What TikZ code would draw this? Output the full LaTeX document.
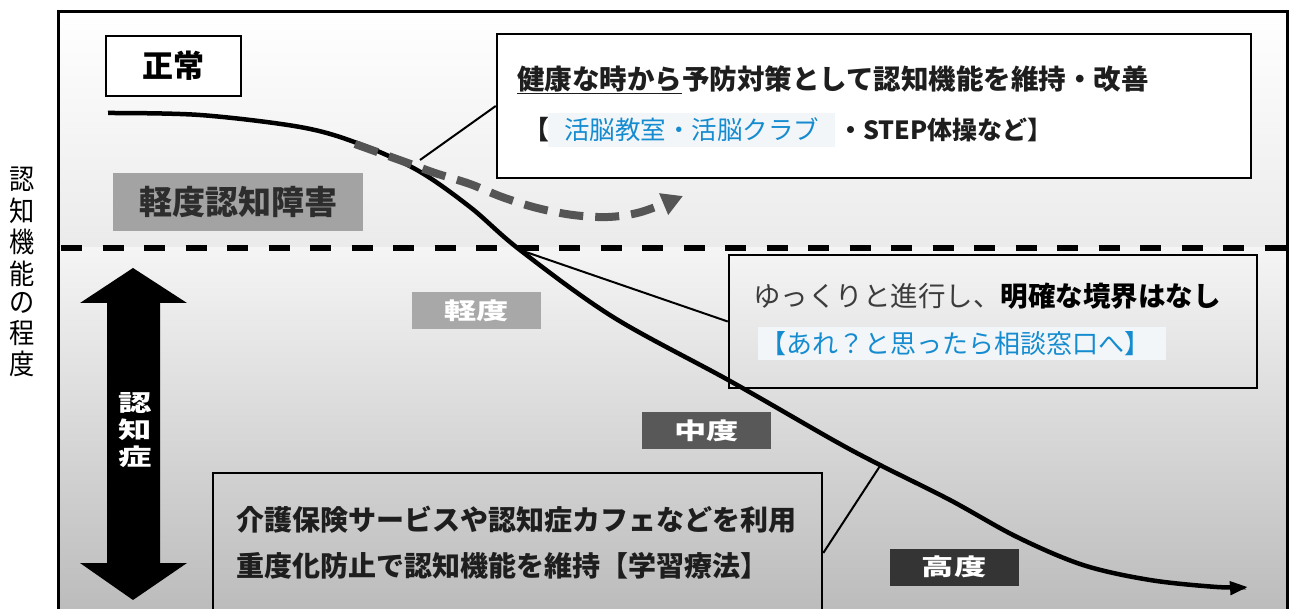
\documentclass[tikz,border=0pt]{standalone}
\usepackage{fontspec}
\usepackage{graphicx}
\setmainfont{Noto Sans CJK JP}
\usetikzlibrary{arrows.meta}
\definecolor{cblue}{RGB}{22,140,208}
\definecolor{cbluebg}{RGB}{242,246,249}
\definecolor{tx}{RGB}{30,30,30}
\definecolor{tgray}{RGB}{60,60,60}
\definecolor{mcigray}{RGB}{163,163,163}
\definecolor{mcitext}{RGB}{45,45,45}
\definecolor{lvone}{RGB}{168,168,168}
\definecolor{lvtwo}{RGB}{88,88,88}
\definecolor{lvthree}{RGB}{52,52,52}
\definecolor{dashgray}{RGB}{85,85,85}
\newcommand{\fsz}[1]{\fontsize{#1}{#1}\selectfont}
\begin{document}
\begin{tikzpicture}[x=1pt,y=-1pt,
  box/.style={draw=black, line width=2.5pt, inner sep=0pt},
  lvl/.style={inner sep=0pt, minimum width=129pt, minimum height=37pt, text=white, font=\bfseries\fsz{23}},
  conn/.style={draw=black, line width=2pt},
  jt/.style={inner sep=0pt, anchor=west}
]
\useasboundingbox (0,0) rectangle (1290,609);
\fill[white] (0,0) rectangle (1290,609);
% backgrounds
\shade[top color=white, bottom color=black!8] (58,12) rectangle (1287,248);
\shade[top color=black!4, bottom color=black!27] (58,248) rectangle (1287,620);

% vertical axis label
\node[inner sep=0pt] (ylab) at (22,275) {\scalebox{0.9}[1]{\fontsize{28}{26.3}\selectfont\begin{tabular}{@{}c@{}}認\\知\\機\\能\\の\\程\\度\end{tabular}}};

% main curve
\draw[line width=4.5pt, -{Triangle[length=18pt,width=13pt]}] plot[smooth, tension=0.55] coordinates {(108,113) (200,115) (300,127) (357,143) (417,170) (470,207) (520,250) (613,317) (730,381) (833,440) (880,465) (950,500) (1017,537) (1083,565) (1150,580) (1217,587) (1248,587)};
\coordinate (p1) at (420,160);
\coordinate (p2) at (520,250);
\coordinate (p3) at (880,466);

% gray dashed prevention curve
\draw[line width=8pt, draw=dashgray, dash pattern=on 24pt off 12pt, -{Triangle[length=21pt,width=22pt]}] plot[smooth, tension=0.55] coordinates {(355,144) (405,162) (435,173) (470,184) (502,197) (537,208) (573,215) (608,217) (641,212) (683,196)};

% threshold dashed line
\draw[line width=6pt, dash pattern=on 21pt off 20.5pt] (61,248) -- (1287,248);

% frame
\draw[line width=3pt] (58,620) -- (58,12) -- (1287,12) -- (1287,620);

% labels
\node[box, fill=white, minimum width=135pt, minimum height=60pt, font=\bfseries\fsz{31}] (norm) at (173.5,66) {正常};
\node[inner sep=0pt, fill=mcigray, minimum width=250pt, minimum height=58pt, font=\bfseries\fsz{33}, text=mcitext] (mci) at (238,202.5) {軽度認知障害};

% box A
\node[box, fill=white, minimum width=754pt, minimum height=144pt] (boxA) at (874,106) {};
\node[jt, font=\bfseries\fsz{27.5}, text=tx] (a1) at (517,80) {\underline{健康な時から}予防対策として認知機能を維持・改善};
\node[inner sep=0pt, anchor=east, font=\bfseries\fsz{26}, text=tx] (a2) at (550,130) {【};
\node[inner sep=0pt, fill=cbluebg, minimum width=287pt, minimum height=34pt, text=cblue, font=\fsz{25.5}] (a3) at (691.5,130) {活脳教室・活脳クラブ};
\node[jt, font=\bfseries\fsz{25}, text=tx] (a4) at (838,130) {・STEP体操など】};

% box B
\node[box, minimum width=528pt, minimum height=133pt] (boxB) at (993,321.5) {};
\node[jt, font=\fsz{27.5}] (b1) at (753,296) {\textcolor{tgray}{ゆっくりと進行し、}{\bfseries\color{black}明確な境界はなし}};
\node[anchor=west, fill=cbluebg, text width=404pt, inner xsep=2pt, inner ysep=0pt, minimum height=33pt, align=left, text=cblue, font=\fsz{26}] (b2) at (758,343.5) {【あれ？と思ったら相談窓口へ】};

% box C
\node[box, minimum width=609pt, minimum height=160pt] (boxC) at (517.5,553) {};
\node[jt, font=\bfseries\fsz{28}, text=tx] (c1) at (236,520) {介護保険サービスや認知症カフェなどを利用};
\node[jt, font=\bfseries\fsz{28}, text=tx] (c2) at (236,566) {重度化防止で認知機能を維持【学習療法】};

% connectors
\draw[conn] (boxA.west) -- (p1);
\draw[conn] (boxB.west) -- (p2);
\draw[conn] (boxC.east) -- (p3);

% severity labels
\node[lvl, fill=lvone] (mild) at (476.5,310.5) {\scalebox{1.4}[1]{軽度}};
\node[lvl, fill=lvtwo] (mod) at (706.5,430.5) {\scalebox{1.4}[1]{中度}};
\node[lvl, fill=lvthree] (sev) at (954,567) {\scalebox{1.4}[1]{高度}};

% double arrow for dementia
\fill[black] (133,268) -- (187,303) -- (160,303) -- (160,563) -- (187,563) -- (133,600) -- (80,563) -- (107,563) -- (107,303) -- (80,303) -- cycle;
\node[inner sep=0pt, text=white] (dem) at (135,433) {\scalebox{1.45}[1]{\bfseries\fontsize{23}{24.5}\selectfont\begin{tabular}{@{}c@{}}認\\知\\症\end{tabular}}};
\end{tikzpicture}
\end{document}
